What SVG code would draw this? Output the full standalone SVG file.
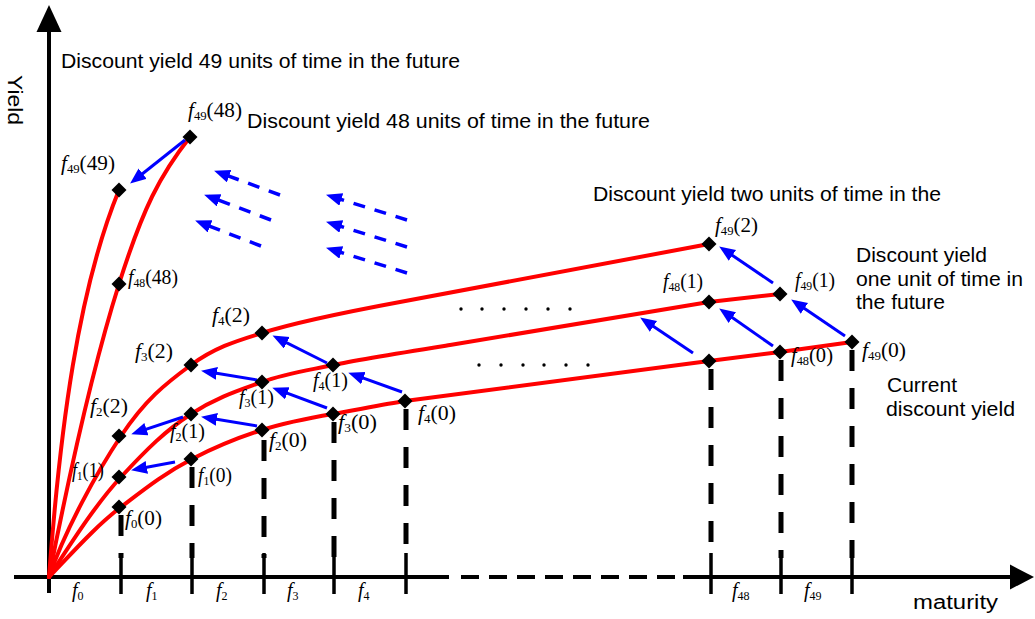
<svg xmlns="http://www.w3.org/2000/svg" xmlns:xlink="http://www.w3.org/1999/xlink" width="1035" height="619" viewBox="0 0 1035 619">
<style>
.curve{fill:none;stroke:#ff0000;stroke-width:4;stroke-linecap:round}
.ax{stroke:#000;stroke-width:4;fill:none}
.vd{stroke:#000;stroke-width:5;stroke-dasharray:21 17}
.tick{stroke:#000;stroke-width:3.5}
.ba{stroke:#0000ff;stroke-width:3;fill:none;marker-end:url(#ah)}
.bd{stroke:#0000ff;stroke-width:3.5;fill:none;stroke-dasharray:12 10;marker-end:url(#ah)}
.t{font-family:"Liberation Sans",Arial,sans-serif;font-size:19.5px;fill:#000}
.m{font-family:"Liberation Serif","Times New Roman",serif;font-size:20px;fill:#000}
.i{font-style:italic}
.s{font-size:12px}
</style>
<defs>
<marker id="ah" markerUnits="userSpaceOnUse" markerWidth="18" markerHeight="16" refX="11" refY="6.5" orient="auto"><path d="M0,0 L16,6.5 L0,13 z" fill="#0000ff"/></marker>
<path id="dm" d="M0,-7.5 L7.5,0 L0,7.5 L-7.5,0Z" fill="#000"/>
</defs>
<rect width="1035" height="619" fill="#fff"/>

<g id="axes">
<line class="ax" x1="49" y1="593" x2="49" y2="30"/>
<polygon points="49,5 36.5,32 61.5,32" fill="#000"/>
<line class="ax" x1="14" y1="577" x2="449" y2="577"/>
<line class="ax" x1="461" y1="577" x2="683" y2="577" stroke-dasharray="18 10"/>
<line class="ax" x1="683" y1="577" x2="1012" y2="577"/>
<polygon points="1034,577 1010,564.5 1010,589.5" fill="#000"/>
<text class="t" transform="translate(8,75) rotate(90)" font-size="22" textLength="50" lengthAdjust="spacingAndGlyphs">Yield</text>
<text class="t" x="913" y="609" textLength="85" lengthAdjust="spacingAndGlyphs">maturity</text>
<g class="m">
<text x="72" y="597"><tspan class="i">f</tspan><tspan class="s" dy="3">0</tspan></text>
<text x="146" y="597"><tspan class="i">f</tspan><tspan class="s" dy="3">1</tspan></text>
<text x="216" y="597"><tspan class="i">f</tspan><tspan class="s" dy="3">2</tspan></text>
<text x="287" y="597"><tspan class="i">f</tspan><tspan class="s" dy="3">3</tspan></text>
<text x="358" y="597"><tspan class="i">f</tspan><tspan class="s" dy="3">4</tspan></text>
<text x="732" y="597"><tspan class="i">f</tspan><tspan class="s" dy="3">48</tspan></text>
<text x="804" y="597"><tspan class="i">f</tspan><tspan class="s" dy="3">49</tspan></text>
</g>
</g>

<g id="guides">
<line class="vd" x1="121" y1="515" x2="121" y2="558"/>
<line class="vd" x1="192" y1="467" x2="192" y2="558"/>
<line class="vd" x1="264" y1="440" x2="264" y2="558"/>
<line class="vd" x1="334" y1="422" x2="334" y2="558"/>
<line class="vd" x1="406" y1="409" x2="406" y2="558"/>
<line class="vd" x1="711" y1="369" x2="711" y2="558"/>
<line class="vd" x1="781" y1="360" x2="781" y2="558"/>
<line class="vd" x1="852" y1="350" x2="852" y2="558"/>
<line class="tick" x1="121" y1="553" x2="121" y2="594"/>
<line class="tick" x1="192" y1="553" x2="192" y2="594"/>
<line class="tick" x1="264" y1="553" x2="264" y2="594"/>
<line class="tick" x1="334" y1="553" x2="334" y2="594"/>
<line class="tick" x1="406" y1="553" x2="406" y2="594"/>
<line class="tick" x1="711" y1="553" x2="711" y2="594"/>
<line class="tick" x1="781" y1="553" x2="781" y2="594"/>
<line class="tick" x1="852" y1="553" x2="852" y2="594"/>
</g>

<g id="curves">
<path class="curve" d="M49,577 C73,552 96,526 121,507 S165,473 192,459 S240,437 262,430 S315,417 333,414 S385,404 405,401 L709,361 L780,352 L852,342"/>
<path class="curve" d="M49,577 C70,545 95,505 121,477 S165,431 191,414 S240,390 262,382 S310,370 333,365 S400,353 450,345 L709,302 L780,294"/>
<path class="curve" d="M49,577 C65,530 97,472 121,436 S165,384 191,365 S240,340 262,333 S330,315 400,302 L709,244"/>
<path class="curve" d="M49,577 C70,470 95,360 119,284 S160,175 190,137"/>
<path class="curve" d="M49,577 C60,430 78,290 119,190"/>
</g>

<g id="connectors">
<line class="ba" x1="185" y1="140" x2="134" y2="180.5"/>
<line class="ba" x1="175" y1="462" x2="136" y2="469.3"/>
<line class="ba" x1="183" y1="417" x2="136" y2="432.7"/>
<line class="ba" x1="257" y1="426" x2="206" y2="417.6"/>
<line class="ba" x1="257" y1="380" x2="206" y2="371.6"/>
<line class="ba" x1="327" y1="408" x2="277" y2="389.4"/>
<line class="ba" x1="327" y1="363" x2="277" y2="337.8"/>
<line class="ba" x1="402" y1="392" x2="353" y2="374.4"/>
<line class="ba" x1="693" y1="353" x2="644.3" y2="320.2"/>
<line class="ba" x1="773" y1="346" x2="723.3" y2="311.3"/>
<line class="ba" x1="845" y1="336" x2="795.3" y2="302.2"/>
<line class="ba" x1="773" y1="283" x2="723.3" y2="249.2"/>
<line class="bd" x1="280" y1="195" x2="218.8" y2="172.4"/>
<line class="bd" x1="271" y1="220" x2="208.8" y2="196.4"/>
<line class="bd" x1="261" y1="246" x2="199.8" y2="222.4"/>
<line class="bd" x1="407" y1="220" x2="330.8" y2="196.2"/>
<line class="bd" x1="407" y1="247" x2="330.8" y2="223.2"/>
<line class="bd" x1="407" y1="273" x2="330.8" y2="249.2"/>
</g>

<g id="ellipsis" fill="#000">
<circle cx="461" cy="309" r="1.7"/><circle cx="482" cy="309" r="1.7"/><circle cx="504" cy="309" r="1.7"/><circle cx="526" cy="309" r="1.7"/><circle cx="548" cy="309" r="1.7"/><circle cx="570" cy="309" r="1.7"/>
<circle cx="479" cy="365" r="1.7"/><circle cx="501" cy="365" r="1.7"/><circle cx="523" cy="365" r="1.7"/><circle cx="544" cy="365" r="1.7"/><circle cx="566" cy="365" r="1.7"/><circle cx="588" cy="365" r="1.7"/>
</g>

<g id="captions" class="t">
<text x="61" y="68" textLength="399" lengthAdjust="spacingAndGlyphs">Discount yield 49 units of time in the future</text>
<text x="247" y="128" textLength="403" lengthAdjust="spacingAndGlyphs">Discount yield 48 units of time in the future</text>
<text x="593" y="201" textLength="348" lengthAdjust="spacingAndGlyphs">Discount yield two units of time in the</text>
<text x="856" y="262" textLength="131" lengthAdjust="spacingAndGlyphs">Discount yield</text>
<text x="856" y="286" textLength="167" lengthAdjust="spacingAndGlyphs">one unit of time in</text>
<text x="856" y="309" textLength="89" lengthAdjust="spacingAndGlyphs">the future</text>
<text x="887" y="392" textLength="70" lengthAdjust="spacingAndGlyphs">Current</text>
<text x="886" y="416" textLength="129" lengthAdjust="spacingAndGlyphs">discount yield</text>
</g>

<g id="n-f49-48"><use xlink:href="#dm" x="190" y="137"/><text class="m" x="188" y="117" textLength="54" lengthAdjust="spacingAndGlyphs"><tspan class="i">f</tspan><tspan class="s" dy="3">49</tspan><tspan dy="-3">(48)</tspan></text></g>
<g id="n-f49-49"><use xlink:href="#dm" x="119" y="190"/><text class="m" x="61" y="170" textLength="54" lengthAdjust="spacingAndGlyphs"><tspan class="i">f</tspan><tspan class="s" dy="3">49</tspan><tspan dy="-3">(49)</tspan></text></g>
<g id="n-f48-48"><use xlink:href="#dm" x="119" y="284"/><text class="m" x="128" y="284" textLength="50" lengthAdjust="spacingAndGlyphs"><tspan class="i">f</tspan><tspan class="s" dy="3">48</tspan><tspan dy="-3">(48)</tspan></text></g>
<g id="n-f4-2"><use xlink:href="#dm" x="262" y="333"/><text class="m" x="212" y="322" textLength="38" lengthAdjust="spacingAndGlyphs"><tspan class="i">f</tspan><tspan class="s" dy="3">4</tspan><tspan dy="-3">(2)</tspan></text></g>
<g id="n-f3-2"><use xlink:href="#dm" x="191" y="365"/><text class="m" x="135" y="358" textLength="38" lengthAdjust="spacingAndGlyphs"><tspan class="i">f</tspan><tspan class="s" dy="3">3</tspan><tspan dy="-3">(2)</tspan></text></g>
<g id="n-f2-2"><use xlink:href="#dm" x="119" y="436"/><text class="m" x="90" y="413" textLength="38" lengthAdjust="spacingAndGlyphs"><tspan class="i">f</tspan><tspan class="s" dy="3">2</tspan><tspan dy="-3">(2)</tspan></text></g>
<g id="n-f1-1"><use xlink:href="#dm" x="119" y="477"/><text class="m" x="72" y="477" textLength="32" lengthAdjust="spacingAndGlyphs"><tspan class="i">f</tspan><tspan class="s" dy="3">1</tspan><tspan dy="-3">(1)</tspan></text></g>
<g id="n-f0-0"><use xlink:href="#dm" x="119" y="507"/><text class="m" x="125" y="525" textLength="37" lengthAdjust="spacingAndGlyphs"><tspan class="i">f</tspan><tspan class="s" dy="3">0</tspan><tspan dy="-3">(0)</tspan></text></g>
<g id="n-f2-1"><use xlink:href="#dm" x="191" y="414"/><text class="m" x="170" y="438" textLength="35" lengthAdjust="spacingAndGlyphs"><tspan class="i">f</tspan><tspan class="s" dy="3">2</tspan><tspan dy="-3">(1)</tspan></text></g>
<g id="n-f3-1"><use xlink:href="#dm" x="262" y="382"/><text class="m" x="239" y="404" textLength="35" lengthAdjust="spacingAndGlyphs"><tspan class="i">f</tspan><tspan class="s" dy="3">3</tspan><tspan dy="-3">(1)</tspan></text></g>
<g id="n-f4-1"><use xlink:href="#dm" x="333" y="365"/><text class="m" x="313" y="387" textLength="35" lengthAdjust="spacingAndGlyphs"><tspan class="i">f</tspan><tspan class="s" dy="3">4</tspan><tspan dy="-3">(1)</tspan></text></g>
<g id="n-f1-0"><use xlink:href="#dm" x="191" y="459"/><text class="m" x="198" y="482" textLength="34" lengthAdjust="spacingAndGlyphs"><tspan class="i">f</tspan><tspan class="s" dy="3">1</tspan><tspan dy="-3">(0)</tspan></text></g>
<g id="n-f2-0"><use xlink:href="#dm" x="262" y="430"/><text class="m" x="269" y="447" textLength="38" lengthAdjust="spacingAndGlyphs"><tspan class="i">f</tspan><tspan class="s" dy="3">2</tspan><tspan dy="-3">(0)</tspan></text></g>
<g id="n-f3-0"><use xlink:href="#dm" x="333" y="414"/><text class="m" x="338" y="429" textLength="39" lengthAdjust="spacingAndGlyphs"><tspan class="i">f</tspan><tspan class="s" dy="3">3</tspan><tspan dy="-3">(0)</tspan></text></g>
<g id="n-f4-0"><use xlink:href="#dm" x="405" y="401"/><text class="m" x="418" y="420" textLength="38" lengthAdjust="spacingAndGlyphs"><tspan class="i">f</tspan><tspan class="s" dy="3">4</tspan><tspan dy="-3">(0)</tspan></text></g>
<g id="n-f49-2"><use xlink:href="#dm" x="709" y="244"/><text class="m" x="715" y="232" textLength="43" lengthAdjust="spacingAndGlyphs"><tspan class="i">f</tspan><tspan class="s" dy="3">49</tspan><tspan dy="-3">(2)</tspan></text></g>
<g id="n-f48-1"><use xlink:href="#dm" x="709" y="302"/><text class="m" x="663" y="288" textLength="40" lengthAdjust="spacingAndGlyphs"><tspan class="i">f</tspan><tspan class="s" dy="3">48</tspan><tspan dy="-3">(1)</tspan></text></g>
<g id="n-f49-1"><use xlink:href="#dm" x="780" y="294"/><text class="m" x="795" y="287" textLength="40" lengthAdjust="spacingAndGlyphs"><tspan class="i">f</tspan><tspan class="s" dy="3">49</tspan><tspan dy="-3">(1)</tspan></text></g>
<g id="n-f47-0"><use xlink:href="#dm" x="709" y="361"/></g>
<g id="n-f48-0"><use xlink:href="#dm" x="780" y="352"/><text class="m" x="791" y="362" textLength="42" lengthAdjust="spacingAndGlyphs"><tspan class="i">f</tspan><tspan class="s" dy="3">48</tspan><tspan dy="-3">(0)</tspan></text></g>
<g id="n-f49-0"><use xlink:href="#dm" x="852" y="342"/><text class="m" x="862" y="357" textLength="44" lengthAdjust="spacingAndGlyphs"><tspan class="i">f</tspan><tspan class="s" dy="3">49</tspan><tspan dy="-3">(0)</tspan></text></g>
</svg>
